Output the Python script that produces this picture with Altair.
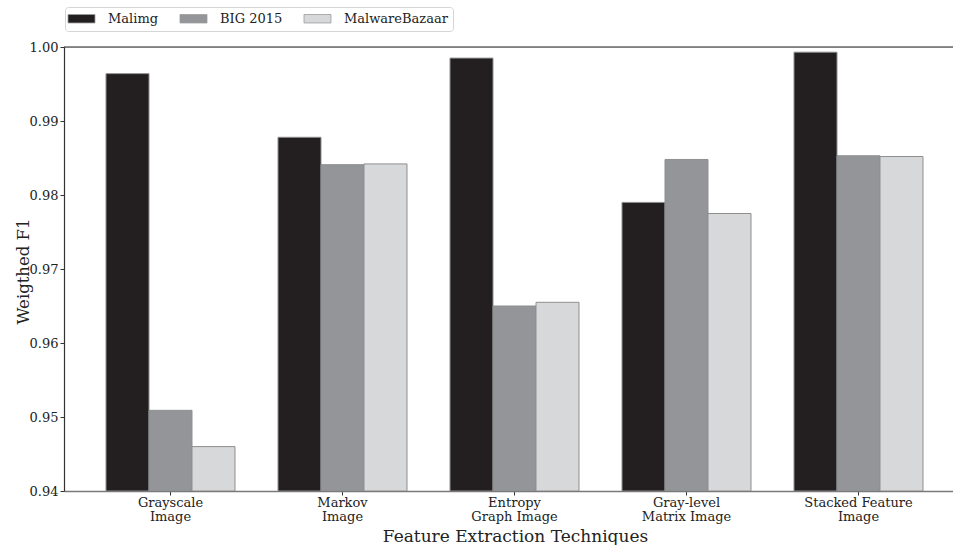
import altair as alt
import pandas as pd

# Weighted F1 per feature-extraction technique and dataset
techniques = [
    "Grayscale\nImage",
    "Markov\nImage",
    "Entropy\nGraph Image",
    "Gray-level\nMatrix Image",
    "Stacked Feature\nImage",
]
datasets = ["Malimg", "BIG 2015", "MalwareBazaar"]
malimg = [0.9964, 0.9878, 0.9985, 0.9790, 0.9993]
big2015 = [0.9509, 0.9841, 0.9650, 0.9848, 0.9853]
bazaar = [0.9460, 0.9842, 0.9655, 0.9775, 0.9852]
colors = ["#231f20", "#939598", "#d7d8da"]
y_ticks = [0.94, 0.95, 0.96, 0.97, 0.98, 0.99, 1.00]

rows = []
for name, vals in zip(datasets, [malimg, big2015, bazaar]):
    for t, v in zip(techniques, vals):
        rows.append({"technique": t, "dataset": name, "f1": v})
df = pd.DataFrame(rows)

W, H = 889, 444
FONT = "DejaVu Serif"

# wide legend swatch: drawn rightwards from the entry origin
swatch = "M-1.89,-0.94L4.11,-0.94L4.11,0.94L-1.89,0.94Z"

bars = alt.Chart(df).mark_bar(
    stroke="#8f8f8f", strokeWidth=1, clip=True
).encode(
    x=alt.X(
        "technique:N",
        sort=techniques,
        scale=alt.Scale(paddingInner=0, paddingOuter=0.0843, align=0.707),
        axis=alt.Axis(
            title="Feature Extraction Techniques",
            labelExpr="split(datum.label, '\\n')",
            labelAngle=0,
            labelFontSize=13,
            labelLineHeight=14,
            labelPadding=1,
            labelColor="#222",
            tickSize=4,
            tickColor="#333",
            domainColor="#7a7a7a",
            domainWidth=1.5,
            titleFontSize=17,
            titleFontWeight="normal",
            titleColor="#222",
            titleX=451,
            titleY=50,
            titleBaseline="alphabetic",
            titleAlign="center",
        ),
    ),
    xOffset=alt.XOffset(
        "dataset:N",
        sort=datasets,
        scale=alt.Scale(paddingInner=0, paddingOuter=0.5),
    ),
    y=alt.Y(
        "f1:Q",
        scale=alt.Scale(domain=[0.94, 1.0], zero=False, nice=False),
        axis=alt.Axis(
            title="Weigthed F1",
            values=y_ticks,
            format=".2f",
            labelFontSize=13,
            labelPadding=2,
            labelColor="#222",
            tickSize=4,
            tickColor="#333",
            domainColor="#333",
            domainWidth=1.2,
            grid=False,
            titleFontSize=16.5,
            titleFontWeight="normal",
            titleColor="#222",
            titleAngle=-90,
            titleX=-41,
            titleY=224,
            titleAlign="center",
            titleBaseline="middle",
        ),
    ),
    y2=alt.Y2(datum=0.94),
    color=alt.Color(
        "dataset:N",
        sort=datasets,
        scale=alt.Scale(domain=datasets, range=colors),
        legend=alt.Legend(
            title=None,
            orient="none",
            legendX=1,
            legendY=-40,
            direction="horizontal",
            symbolType=swatch,
            symbolSize=81,
            symbolStrokeColor="#9a9a9a",
            symbolStrokeWidth=0.8,
            labelFontSize=13,
            labelColor="#222",
            labelOffset=25,
            columnPadding=19,
            padding=5,
            strokeColor="#d5d5d5",
            fillColor="white",
            cornerRadius=3,
        ),
    ),
)

top_spine = alt.Chart(pd.DataFrame({"v": [0]})).mark_rule(
    color="#222", strokeWidth=1.2
).encode(y=alt.value(0), x=alt.value(0), x2=alt.value(W))

chart = alt.layer(bars, top_spine).properties(
    width=W,
    height=H,
    autosize=alt.AutoSizeParams(type="none"),
    padding={"left": 64, "top": 47, "right": 0, "bottom": 54},
).configure_view(stroke=None).configure(font=FONT)

chart.save("out.html", embed_options={"renderer": "svg", "actions": False})
